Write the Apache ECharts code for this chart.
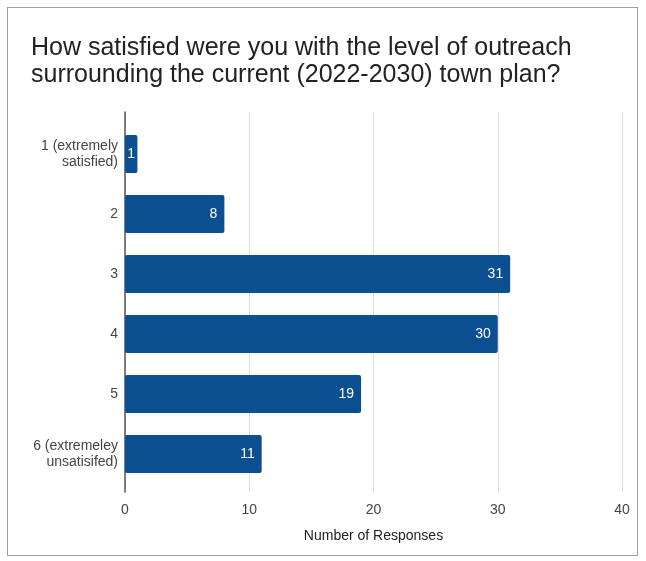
<!DOCTYPE html>
<html>
<head>
<meta charset="utf-8">
<script src="https://cdn.jsdelivr.net/npm/echarts@6/dist/echarts.min.js"></script>
<style>
  html, body { margin: 0; padding: 0; background: #ffffff; }
  #frame { position: absolute; left: 7px; top: 7px; width: 631px; height: 549px; border: 1px solid #9e9e9e; box-sizing: border-box; }
  #chart { width: 646px; height: 561px; }
</style>
</head>
<body>
<div id="frame"></div>
<div id="chart"></div>
<script>
const titleText = 'How satisfied were you with the level of outreach\nsurrounding the current (2022-2030) town plan?';
const categories = [
  '1 (extremely\nsatisfied)',
  '2',
  '3',
  '4',
  '5',
  '6 (extremeley\nunsatisifed)'
];
const responses = [1, 8, 31, 30, 19, 11];
const xTicks = { min: 0, max: 40, interval: 10 };
const xAxisName = 'Number of Responses';

const barColor = '#0c4f91';
const font = 'Liberation Sans, Arial, sans-serif';

// very short bars get their value centred instead of pinned to the end
const barData = responses.map(v => v < 3
  ? { value: v, label: { position: 'inside' } }
  : v);

const chart = echarts.init(document.getElementById('chart'), null, { renderer: 'canvas' });
chart.setOption({
  backgroundColor: 'transparent',
  animation: false,
  title: {
    text: titleText,
    left: 26,
    top: 30,
    textStyle: { fontFamily: font, fontSize: 25, fontWeight: 'normal', color: '#222222', lineHeight: 27 }
  },
  grid: [
    // full-height area for gridlines, ticks and the axis name
    { left: 125, right: 24, top: 112, height: 380 },
    // bar area, inset so the bands sit inside the gridlines
    { left: 125, right: 24, top: 124, height: 360 }
  ],
  xAxis: [
    {
      gridIndex: 0,
      type: 'value',
      min: xTicks.min, max: xTicks.max, interval: xTicks.interval,
      name: xAxisName,
      nameLocation: 'middle',
      nameGap: 37,
      nameTextStyle: { fontFamily: font, fontSize: 14, color: '#222222' },
      axisLine: { show: false },
      axisTick: { show: false },
      axisLabel: { fontFamily: font, fontSize: 14, color: '#444444', margin: 11 },
      splitLine: { show: true, lineStyle: { color: '#dddddd', width: 1 } }
    },
    {
      gridIndex: 1,
      type: 'value',
      min: xTicks.min, max: xTicks.max, interval: xTicks.interval,
      show: false
    }
  ],
  yAxis: [
    {
      gridIndex: 0,
      type: 'value',
      min: 0, max: 1,
      axisLine: { show: true, lineStyle: { color: '#555555', width: 1.5 } },
      axisTick: { show: false },
      axisLabel: { show: false },
      splitLine: { show: false }
    },
    {
      gridIndex: 1,
      type: 'category',
      data: categories,
      inverse: true,
      axisLine: { show: false },
      axisTick: { show: false },
      axisLabel: { fontFamily: font, fontSize: 14, color: '#444444', margin: 7, lineHeight: 16, align: 'right' },
      splitLine: { show: false }
    }
  ],
  series: [{
    type: 'bar',
    xAxisIndex: 1,
    yAxisIndex: 1,
    data: barData,
    barCategoryGap: '37%',
    itemStyle: { color: barColor, borderRadius: 2 },
    label: {
      show: true,
      position: 'insideRight',
      distance: 7,
      fontFamily: font,
      fontSize: 14,
      color: '#ffffff'
    }
  }]
});
</script>
</body>
</html>
